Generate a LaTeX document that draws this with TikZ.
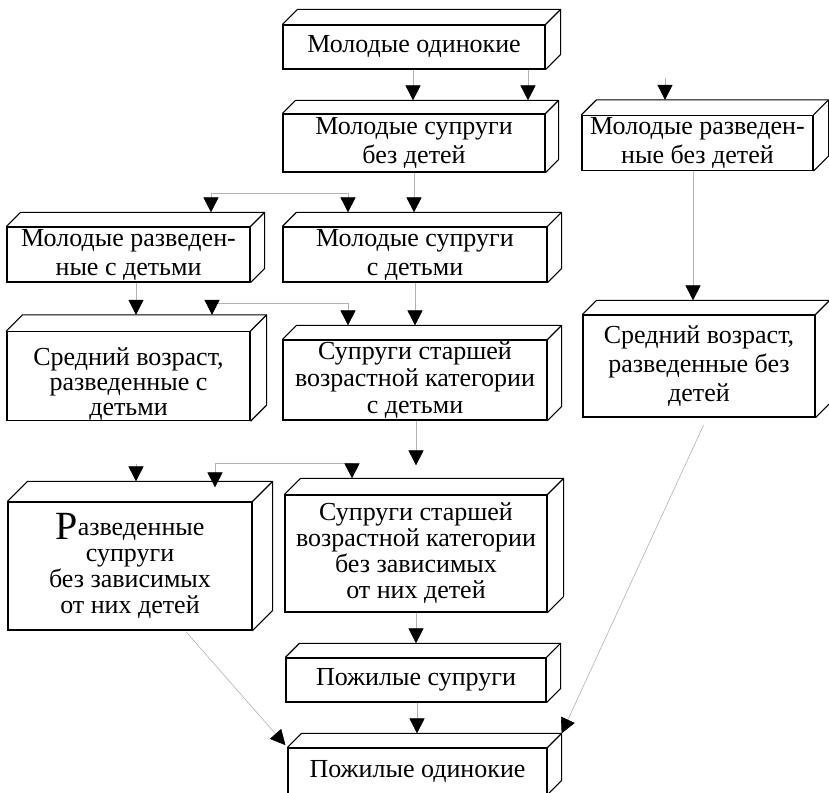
\documentclass[tikz,border=0pt]{standalone}
\usepackage{fontspec}
\setmainfont{Liberation Serif}
\usetikzlibrary{arrows.meta}

% top face and side face of a block, #2 = depth
\newcommand{\slab}[2]{%
  \path (#1.north west) ++(#2,-#2) coordinate (#1-nw);
  \path (#1.north east) ++(#2,-#2) coordinate (#1-ne);
  \path (#1.south east) ++(#2,-#2) coordinate (#1-se);
  \draw [face] (#1.north west) -- (#1-nw) -- (#1-ne) -- (#1-se) -- (#1.south east);
  \draw [face] (#1.north east) -- (#1-ne);
}

\begin{document}
\begin{tikzpicture}[x=1pt, y=-1pt]

              % Definitions
              \tikzstyle{Block} = [rectangle, draw=black, line width=1.2pt, align=center, inner sep=0pt, font=\fontsize{26}{29}\selectfont]
              \tikzstyle{face} = [line width=1.1pt, line join=round]
              \tikzstyle{arrow} = [draw=gray!60, line width=0.6pt, -{Triangle[width=15pt,length=15pt,color=black]}]

              \useasboundingbox (0,0) rectangle (829,792);

              \node (MO) [Block, minimum width=262pt, minimum height=44pt] at (414,47) {Молодые одинокие};
              \node (MS1) [Block, minimum width=262pt, minimum height=58pt] at (414,143) {Молодые супруги\\без детей};
              \node (MR) [Block, minimum width=231pt, minimum height=55pt, right of=MS1, xshift=255pt] {Молодые разведен-\\ные без детей};

              \node (YD) [Block, minimum width=243pt, minimum height=55pt] at (128.5,254.5) {Молодые разведен-\\ные с детьми};
              \node (YC) [Block, minimum width=264pt, minimum height=55pt, right of=YD, xshift=258pt] {Молодые супруги\\с детьми};

              \node (MD) [Block, minimum width=243pt, minimum height=88pt, font=\fontsize{26}{25}\selectfont] at (128.5,376) {\rule{0pt}{34pt}Средний возраст,\\разведенные с\\детьми};
              \node (SC) [Block, minimum width=264pt, minimum height=80pt, font=\fontsize{26}{27}\selectfont] at (415,380) {Супруги старшей\\возрастной категории\\с детьми};
              \node (MRD) [Block, minimum width=232pt, minimum height=102pt, font=\fontsize{26}{29}\selectfont] at (699,366) {Средний возраст,\\разведенные без\\детей};

              \node (RS) [Block, minimum width=244pt, minimum height=128pt, font=\fontsize{26}{26}\selectfont] at (130,566) {{\fontsize{40}{40}\selectfont\raisebox{-4pt}{Р}}азведенные\\супруги\\без зависимых\\от них детей};
              \node (SB) [Block, minimum width=262pt, minimum height=117pt, font=\fontsize{26}{26}\selectfont] at (416,553.5) {Супруги старшей\\возрастной категории\\без зависимых\\от них детей};

              \node (PS) [Block, minimum width=260pt, minimum height=44pt, below of=SB, yshift=-98pt] {Пожилые супруги};
              \node (PO) [Block, minimum width=259pt, minimum height=46pt] at (417.5,771) {Пожилые одинокие};

              \foreach \b/\d in {MO/15, MS1/13, MR/15, YD/14, YC/14, MD/16, SC/14, MRD/14, RS/20, SB/16, PS/14, PO/14}
                \slab{\b}{\d};

              % junctions
              \coordinate (j0) at (665,78);
              \coordinate (j1) at (348,193);
              \coordinate (j2) at (348,303);
              \coordinate (j5) at (136,464);
              \coordinate (j3) at (352,463);

              \draw [arrow] (MO.south -| 413,0) -- (MS1-nw -| 413,0);
              \draw [arrow] (MO.south -| 528,0) -- (MS1-nw -| 528,0);
              \draw [arrow] (j0) -- (MR-nw -| 665,0);

              \draw [arrow] (MS1.south -| 414,0) -- (YC-nw -| 414,0);
              \draw [arrow] (j1) -| (YD-nw -| 211,0);
              \draw [arrow] (j1) -- (YC-nw -| 348,0);
              \draw [arrow] (MR.south -| 693,0) -- (MRD-nw -| 693,0);

              \draw [arrow] (YD.south -| 136,0) -- (MD-nw -| 136,0);
              \draw [arrow] (j2) -| (MD-nw -| 212,0);
              \draw [arrow] (j2) -- (SC-nw -| 348,0);
              \draw [arrow] (YC.south -| 415,0) -- (SC-nw -| 415,0);

              \draw [arrow] (j5) -- (RS-nw -| 136,0);
              \draw [arrow, shorten >=-6pt] (j3) -| (RS-nw -| 215,0);
              \draw [arrow] (j3) -- (SB-nw -| 352,0);
              \draw [arrow, shorten >=13pt] (SC.south -| 416,0) -- (SB-nw -| 416,0);

              \draw [arrow] (SB.south -| 416,0) -- (PS-nw -| 416,0);
              \draw [arrow] (PS.south -| 417,0) -- (PO-nw -| 417,0);

              \draw [arrow, shorten <=2pt, shorten >=3pt] (RS.south -| 185,0) -- (PO.north west);
              \draw [arrow, shorten <=8pt] (MRD.south -| 707,0) -- (PO-ne);

            \end{tikzpicture}
\end{document}
